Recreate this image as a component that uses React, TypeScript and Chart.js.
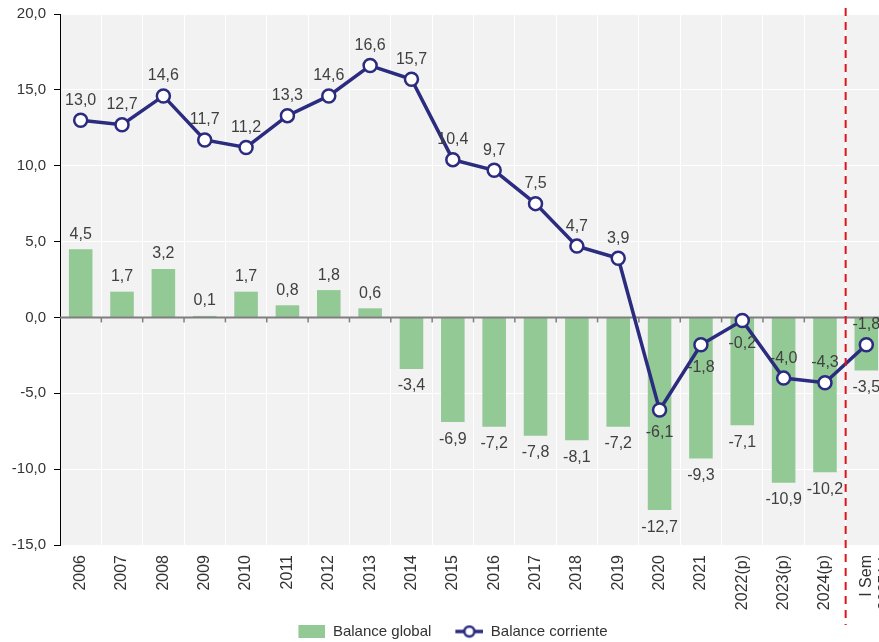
import React, { useEffect, useRef } from "react";
import { Chart, registerables } from "chart.js";

Chart.register(...registerables);

const categories: (string | string[])[] = [
  "2006", "2007", "2008", "2009", "2010", "2011", "2012", "2013", "2014", "2015",
  "2016", "2017", "2018", "2019", "2020", "2021", "2022(p)", "2023(p)", "2024(p)",
  ["I Sem", "2025(p)"],
];

const balanceGlobal = [
  4.5, 1.7, 3.2, 0.1, 1.7, 0.8, 1.8, 0.6, -3.4, -6.9,
  -7.2, -7.8, -8.1, -7.2, -12.7, -9.3, -7.1, -10.9, -10.2, -3.5,
];

const balanceCorriente = [
  13.0, 12.7, 14.6, 11.7, 11.2, 13.3, 14.6, 16.6, 15.7, 10.4,
  9.7, 7.5, 4.7, 3.9, -6.1, -1.8, -0.2, -4.0, -4.3, -1.8,
];

// which side of the point the line's value label sits on
const corrienteLabelSide = [
  "up", "up", "up", "up", "up", "up", "up", "up", "up", "up",
  "up", "up", "up", "up", "down", "down", "down", "up", "up", "up",
];

const yMin = -15;
const yMax = 20;
const yStep = 5;
const dividerAfterIndex = 18; // dashed line between 2024(p) and I Sem 2025(p)

const seriesNames = ["Balance global", "Balance corriente"];

const GREEN = "#92C995";
const NAVY = "#2B2B80";
const TEXT = "#333333";
const FONT = '"Liberation Sans", Arial, sans-serif';

const fmt = (v: number) => v.toFixed(1).replace(".", ",");

const ICON_BOX = 46; // legend icon slot width (icon drawn at its right end)

function makeBarIcon(): HTMLCanvasElement {
  const c = document.createElement("canvas");
  c.width = ICON_BOX;
  c.height = 13;
  const ctx = c.getContext("2d")!;
  ctx.fillStyle = GREEN;
  ctx.fillRect(ICON_BOX - 27, 0, 27, 13);
  return c;
}

function makeLineIcon(): HTMLCanvasElement {
  const c = document.createElement("canvas");
  c.width = ICON_BOX;
  c.height = 14;
  const ctx = c.getContext("2d")!;
  const x0 = ICON_BOX - 28;
  ctx.strokeStyle = NAVY;
  ctx.lineWidth = 3.5;
  ctx.beginPath();
  ctx.moveTo(x0, 7);
  ctx.lineTo(x0 + 28, 7);
  ctx.stroke();
  ctx.beginPath();
  ctx.arc(x0 + 14, 7, 5, 0, Math.PI * 2);
  ctx.fillStyle = "#ffffff";
  ctx.fill();
  ctx.lineWidth = 2.5;
  ctx.stroke();
  return c;
}

const decorPlugin = {
  id: "decor",
  beforeDraw(chart: any) {
    const { ctx, chartArea } = chart;
    ctx.save();
    ctx.fillStyle = "#F2F2F2";
    ctx.fillRect(chartArea.left, chartArea.top, chartArea.right - chartArea.left, chartArea.bottom - chartArea.top);
    ctx.restore();
  },
  afterDatasetDraw(chart: any, args: any) {
    if (args.index !== 0) return;
    const { ctx, chartArea } = chart;
    const xs = chart.scales.x;
    const ys = chart.scales.y;
    const y0 = ys.getPixelForValue(0);
    ctx.save();
    ctx.strokeStyle = "#7F7F7F";
    ctx.lineWidth = 2;
    ctx.beginPath();
    ctx.moveTo(chartArea.left, y0);
    ctx.lineTo(chartArea.right, y0);
    ctx.stroke();
    ctx.lineWidth = 1.5;
    for (let i = 0; i < categories.length - 1; i++) {
      const bx = (xs.getPixelForValue(i) + xs.getPixelForValue(i + 1)) / 2;
      ctx.beginPath();
      ctx.moveTo(bx, y0);
      ctx.lineTo(bx, y0 + 5);
      ctx.stroke();
    }
    ctx.restore();
  },
  afterDatasetsDraw(chart: any) {
    const { ctx } = chart;
    ctx.save();
    ctx.font = `16px ${FONT}`;
    ctx.fillStyle = "#404040";
    ctx.textAlign = "center";
    ctx.textBaseline = "middle";
    const barMeta = chart.getDatasetMeta(0);
    barMeta.data.forEach((el: any, i: number) => {
      const v = balanceGlobal[i];
      const y = v >= 0 ? el.y - 15 : el.y + 17;
      ctx.fillText(fmt(v), el.x, y);
    });
    const lineMeta = chart.getDatasetMeta(1);
    lineMeta.data.forEach((el: any, i: number) => {
      const v = balanceCorriente[i];
      const y = corrienteLabelSide[i] === "up" ? el.y - 20 : el.y + 23;
      ctx.fillText(fmt(v), el.x, y);
    });
    ctx.restore();
  },
  afterDraw(chart: any) {
    const { ctx } = chart;
    const xs = chart.scales.x;
    const bx = (xs.getPixelForValue(dividerAfterIndex) + xs.getPixelForValue(dividerAfterIndex + 1)) / 2;
    ctx.save();
    ctx.strokeStyle = "#E0141E";
    ctx.lineWidth = 2;
    ctx.setLineDash([8, 6]);
    ctx.beginPath();
    ctx.moveTo(bx, 8);
    ctx.lineTo(bx, 625);
    ctx.stroke();
    ctx.restore();
  },
};

export default function App() {
  const ref = useRef<HTMLCanvasElement | null>(null);

  useEffect(() => {
    if (!ref.current) return;
    const barIcon = makeBarIcon();
    const lineIcon = makeLineIcon();
    const chart = new Chart(ref.current, {
      type: "bar",
      data: {
        labels: categories as any,
        datasets: [
          {
            type: "bar",
            label: seriesNames[0],
            data: balanceGlobal,
            backgroundColor: GREEN,
            barPercentage: 0.57,
            categoryPercentage: 1,
            order: 1,
          },
          {
            type: "line",
            label: seriesNames[1],
            data: balanceCorriente,
            borderColor: NAVY,
            borderWidth: 3.5,
            pointRadius: 6.5,
            pointBorderWidth: 2.5,
            pointBackgroundColor: "#ffffff",
            pointBorderColor: NAVY,
            tension: 0,
            order: 0,
          } as any,
        ],
      },
      options: {
        responsive: false,
        animation: false,
        devicePixelRatio: 1,
        layout: { padding: { top: 14, right: 19, left: 0, bottom: 0 } },
        plugins: {
          tooltip: { enabled: false },
          legend: {
            position: "bottom",
            labels: {
              usePointStyle: true,
              pointStyleWidth: ICON_BOX,
              boxHeight: 13,
              padding: 6,
              color: TEXT,
              font: { size: 15, family: FONT },
              generateLabels: () => [
                { text: seriesNames[0], pointStyle: barIcon, datasetIndex: 0, hidden: false, lineWidth: 0, fillStyle: GREEN, strokeStyle: GREEN, fontColor: TEXT },
                { text: seriesNames[1], pointStyle: lineIcon, datasetIndex: 1, hidden: false, lineWidth: 0, fillStyle: NAVY, strokeStyle: NAVY, fontColor: TEXT },
              ] as any,
            },
          },
        },
        scales: {
          x: {
            offset: true,
            border: { display: false },
            grid: {
              offset: true,
              color: "#FFFFFF",
              lineWidth: 1,
              drawTicks: false,
            },
            ticks: {
              minRotation: 90,
              maxRotation: 90,
              autoSkip: false,
              padding: 10,
              color: TEXT,
              font: { size: 16, family: FONT },
            },
            afterFit: (s: any) => {
              s.height = 73;
              s.paddingLeft = 0;
              s.paddingRight = 0;
            },
          },
          y: {
            min: yMin,
            max: yMax,
            border: { display: true, color: "#000000", width: 1 },
            grid: {
              color: "#FFFFFF",
              lineWidth: 1,
              tickColor: "#000000",
              tickLength: 6,
            },
            ticks: {
              stepSize: yStep,
              padding: 8,
              color: TEXT,
              font: { size: 15, family: FONT },
              callback: (v: any) => fmt(Number(v)),
            },
            afterFit: (s: any) => {
              s.width = 60;
              s.paddingTop = 0;
              s.paddingBottom = 0;
            },
          },
        },
      },
      plugins: [decorPlugin],
    });
    return () => chart.destroy();
  }, []);

  return (
    <div style={{ position: "fixed", left: 0, top: 0, width: 879, height: 642, overflow: "hidden", background: "#fff" }}>
      <canvas ref={ref} width={906} height={649} style={{ display: "block" }} />
    </div>
  );
}
